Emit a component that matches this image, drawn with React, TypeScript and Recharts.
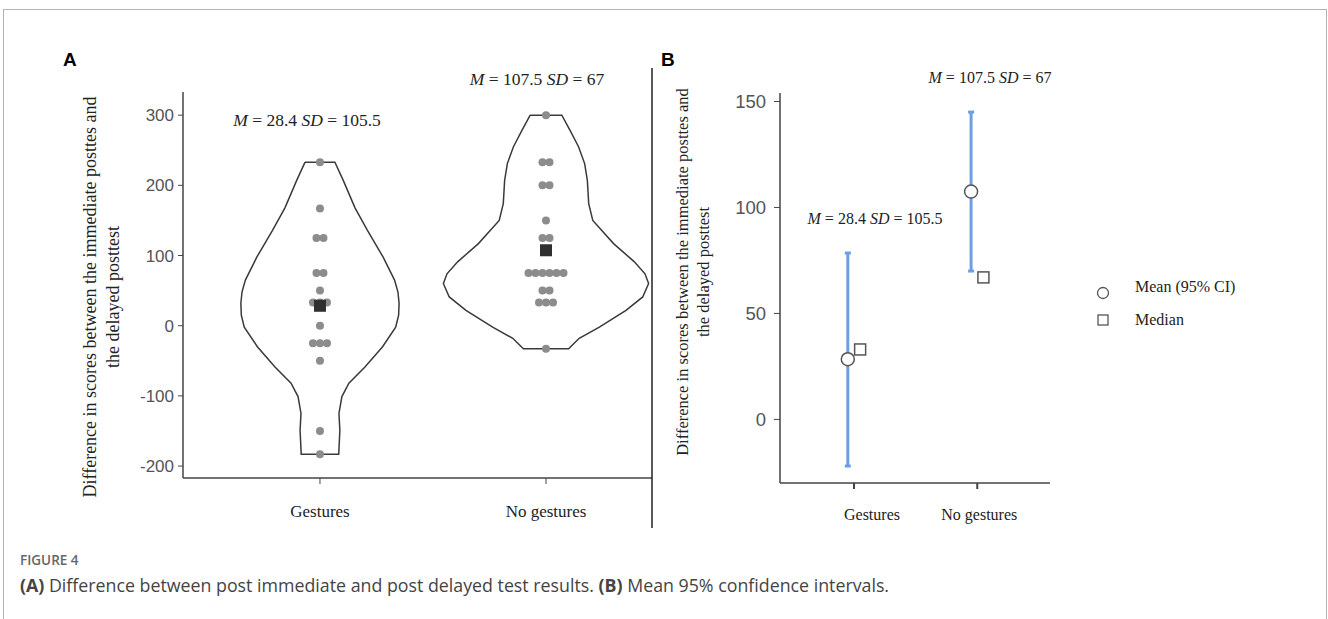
import React from 'react';
import { ScatterChart, Scatter, XAxis, YAxis, ErrorBar, Legend } from 'recharts';

const CATEGORIES = ['Gestures', 'No gestures'];

// individual differences
const GESTURES_SCORES = [233, 167, 125, 125, 75, 75, 50, 33, 33, 33, 0, -25, -25, -25, -50, -150, -183];
const NO_GESTURES_SCORES = [300, 233, 233, 200, 200, 150, 125, 125, 75, 75, 75, 75, 75, 75, 50, 50, 33, 33, 33, -33];

const MEANS = [28.4, 107.5];
const SDS = [105.5, 67];
const MEDIANS = [33, 67];
const CI_LOW = [-22, 70];
const CI_HIGH = [78.5, 145];

// violin outlines: score levels and half widths (category units)
const GESTURES_VIOLIN_Y = [233, 207, 168, 136, 98, 65, 48, 32, 15, -2, -30, -59, -82, -101, -125, -149, -183];
const GESTURES_VIOLIN_W = [0.066, 0.103, 0.155, 0.21, 0.279, 0.33, 0.345, 0.35, 0.348, 0.335, 0.277, 0.199, 0.128, 0.097, 0.084, 0.088, 0.083];
const NO_GESTURES_VIOLIN_Y = [300, 278, 255, 231, 207, 174, 150, 117, 91, 74, 60, 41, 22, -2, -18, -33];
const NO_GESTURES_VIOLIN_W = [0.07, 0.107, 0.144, 0.171, 0.183, 0.189, 0.207, 0.299, 0.391, 0.438, 0.454, 0.428, 0.354, 0.236, 0.147, 0.1];

const TICKS_A = [-200, -100, 0, 100, 200, 300];
const TICKS_B = [0, 50, 100, 150];

const SERIF = "'Liberation Serif', 'Times New Roman', serif";
const SANS = "'Liberation Sans', Arial, sans-serif";
const DOT_STEP = 0.031;
const CI_BLUE = '#6c9fe3';

function swarm(values: number[], cx: number) {
  const counts: Record<number, number> = {};
  values.forEach(v => (counts[v] = (counts[v] || 0) + 1));
  const seen: Record<number, number> = {};
  return values.map(v => {
    seen[v] = (seen[v] ?? -1) + 1;
    return { x: cx + (seen[v] - (counts[v] - 1) / 2) * DOT_STEP, y: v };
  });
}

function violinOutline(levels: number[], widths: number[], cx: number) {
  const left = levels.map((y, i) => ({ x: cx - widths[i], y }));
  const right = levels.map((y, i) => ({ x: cx + widths[i], y })).reverse();
  return [...left, ...right, left[0]];
}

const gestureDots = swarm(GESTURES_SCORES, 0);
const noGestureDots = swarm(NO_GESTURES_SCORES, 1);
const gestureViolin = violinOutline(GESTURES_VIOLIN_Y, GESTURES_VIOLIN_W, 0);
const noGestureViolin = violinOutline(NO_GESTURES_VIOLIN_Y, NO_GESTURES_VIOLIN_W, 1);
const meanA = MEANS.map((m, i) => ({ x: i, y: m }));
const ciB = MEANS.map((m, i) => ({ x: i - 0.05, y: m, err: [m - CI_LOW[i], CI_HIGH[i] - m] }));
const meanB = MEANS.map((m, i) => ({ x: i - 0.05, y: m }));
const medianB = MEDIANS.map((m, i) => ({ x: i + 0.05, y: m }));

const Nothing = () => <g />;
const GrayDot = (p: any) => <circle cx={p.cx} cy={p.cy} r={4} fill="#8c8c8c" />;
const DarkSquare = (p: any) => <rect x={p.cx - 6} y={p.cy - 6} width={12} height={12} fill="#2f2f2f" />;
const OpenCircle = (p: any) => <circle cx={p.cx} cy={p.cy} r={6.5} fill="#fff" stroke="#555" strokeWidth={1.5} />;
const OpenSquare = (p: any) => <rect x={p.cx - 5.5} y={p.cy - 5.5} width={11} height={11} fill="#fff" stroke="#555" strokeWidth={1.5} />;

function CategoryTick(props: any) {
  const { x, y, payload, dy, size, shift } = props;
  return (
    <text x={x + (shift ? shift[payload.value] : 0)} y={y + dy} textAnchor="middle" fontFamily={SERIF} fontSize={size} fill="#222">
      {CATEGORIES[payload.value]}
    </text>
  );
}

function StatText({ x, y, i, size }: { x: number; y: number; i: number; size: number }) {
  return (
    <text x={x} y={y} textAnchor="middle" fontFamily={SERIF} fontSize={size} fill="#222">
      <tspan fontStyle="italic">M</tspan> = {MEANS[i]} <tspan fontStyle="italic">SD</tspan> = {SDS[i]}
    </text>
  );
}

function AxisTitle({ x, y, size }: { x: number; y: number; size: number }) {
  return (
    <text transform={`translate(${x},${y}) rotate(-90)`} textAnchor="middle" fontFamily={SERIF} fontSize={size} fill="#222">
      <tspan x={0} y={0}>Difference in scores between the immediate posttes and</tspan>
      <tspan x={0} y={size * 1.25}>the delayed posttest</tspan>
    </text>
  );
}

function LegendBox() {
  return (
    <svg width={200} height={60}>
      <circle cx={8} cy={18} r={5.5} fill="#fff" stroke="#555" strokeWidth={1.3} />
      <text x={40} y={17} fontFamily={SERIF} fontSize={16} fill="#222">Mean (95% CI)</text>
      <rect x={3} y={40} width={10} height={10} fill="#fff" stroke="#555" strokeWidth={1.3} />
      <text x={40} y={50} fontFamily={SERIF} fontSize={16} fill="#222">Median</text>
    </svg>
  );
}

export default function App() {
  const axisLine = { stroke: '#444', strokeWidth: 1.5 };
  return (
    <div style={{ position: 'absolute', left: 0, top: 0, width: 1328, height: 619, background: '#fff', overflow: 'hidden' }}>
      <div style={{ position: 'absolute', left: 3, top: 9, width: 1322, height: 700, border: '1.5px solid #b4b4b4' }} />

      <div style={{ position: 'absolute', left: 0, top: 0 }}>
        <ScatterChart width={660} height={540} margin={{ top: 92, right: 8, bottom: 32, left: 123 }}>
          <XAxis
            type="number"
            dataKey="x"
            domain={[-0.606, 1.469]}
            ticks={[0, 1]}
            allowDataOverflow
            axisLine={axisLine}
            tickLine={{ stroke: '#444' }}
            tickSize={6}
            tick={(p: any) => <CategoryTick {...p} dy={31} size={17} />}
          />
          <YAxis
            type="number"
            dataKey="y"
            domain={[-217, 333]}
            ticks={TICKS_A}
            allowDataOverflow
            width={60}
            axisLine={axisLine}
            tickLine={{ stroke: '#444' }}
            tickSize={5}
            tickMargin={4}
            tick={{ fill: '#555', fontSize: 17, fontFamily: SANS }}
          />
          <Scatter data={gestureViolin} line={{ stroke: '#3a3a3a', strokeWidth: 1.5 }} shape={Nothing} isAnimationActive={false} />
          <Scatter data={noGestureViolin} line={{ stroke: '#3a3a3a', strokeWidth: 1.5 }} shape={Nothing} isAnimationActive={false} />
          <Scatter data={gestureDots} shape={GrayDot} isAnimationActive={false} />
          <Scatter data={noGestureDots} shape={GrayDot} isAnimationActive={false} />
          <Scatter data={meanA} shape={DarkSquare} isAnimationActive={false} />
        </ScatterChart>
      </div>

      <div style={{ position: 'absolute', left: 655, top: 0 }}>
        <ScatterChart width={670} height={540} margin={{ top: 93, right: 275, bottom: 27, left: 65 }}>
          <XAxis
            type="number"
            dataKey="x"
            domain={[-0.6, 1.59]}
            ticks={[0, 1]}
            allowDataOverflow
            axisLine={axisLine}
            tickLine={{ stroke: '#444', strokeWidth: 2 }}
            tickSize={6}
            tick={(p: any) => <CategoryTick {...p} dy={29} size={16} shift={[18, 2]} />}
          />
          <YAxis
            type="number"
            dataKey="y"
            domain={[-30, 154]}
            ticks={TICKS_B}
            allowDataOverflow
            width={60}
            axisLine={axisLine}
            tickLine={{ stroke: '#444' }}
            tickSize={6}
            tickMargin={8}
            tick={{ fill: '#555', fontSize: 18.5, fontFamily: SANS }}
          />
          <Scatter data={ciB} shape={Nothing} isAnimationActive={false}>
            <ErrorBar dataKey="err" direction="y" width={3} stroke={CI_BLUE} strokeWidth={3} isAnimationActive={false} />
          </Scatter>
          <Scatter data={meanB} shape={OpenCircle} isAnimationActive={false} />
          <Scatter data={medianB} shape={OpenSquare} isAnimationActive={false} />
          <Legend
            layout="vertical"
            align="center"
            verticalAlign="middle"
            content={() => <LegendBox />}
            wrapperStyle={{ left: 440, top: 275, width: 200 }}
          />
        </ScatterChart>
      </div>

      <svg width={1328} height={619} style={{ position: 'absolute', left: 0, top: 0, pointerEvents: 'none' }}>
        <text x={63} y={66} fontFamily={SANS} fontWeight="bold" fontSize={19} fill="#000">A</text>
        <text x={661} y={66} fontFamily={SANS} fontWeight="bold" fontSize={19} fill="#000">B</text>
        <line x1={652} y1={68} x2={652} y2={528} stroke="#222" strokeWidth={1.5} />
        <AxisTitle x={96} y={297} size={18} />
        <AxisTitle x={688} y={272} size={16.5} />
        <StatText x={307} y={126} i={0} size={17.5} />
        <StatText x={537} y={85} i={1} size={17.5} />
        <StatText x={875} y={224} i={0} size={16} />
        <StatText x={990} y={83} i={1} size={16} />
      </svg>

      <div style={{ position: 'absolute', left: 20, top: 551, fontFamily: "'Open Sans', sans-serif", color: '#666', fontSize: 13.5, fontWeight: 600 }}>
        FIGURE 4
      </div>
      <div style={{ position: 'absolute', left: 20, top: 573, fontFamily: "'Open Sans', sans-serif", color: '#444', fontSize: 17.8, whiteSpace: 'nowrap' }}>
        <b>(A)</b> Difference between post immediate and post delayed test results. <b>(B)</b> Mean 95% confidence intervals.
      </div>
    </div>
  );
}
